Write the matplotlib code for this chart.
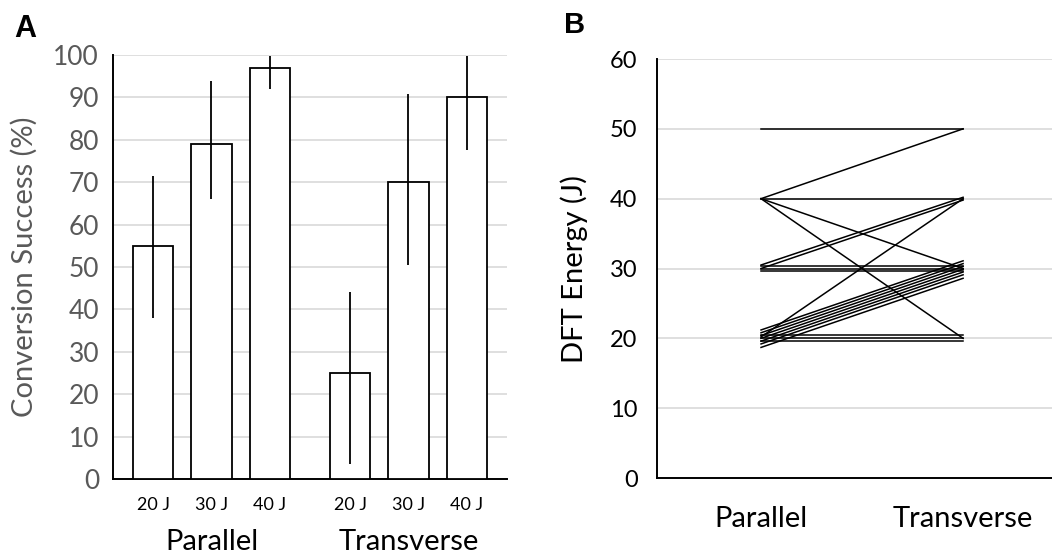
import numpy as np
import matplotlib.pyplot as plt

plt.rcParams['font.family'] = ['Lato', 'DejaVu Sans']

# === Panel A data ===
bar_labels = ['20 J', '30 J', '40 J', '20 J', '30 J', '40 J']
group_labels = ['Parallel', 'Transverse']
success = [55, 79, 97, 25, 70, 90]
err_low = [38, 66, 92, 3.6, 50.5, 77.7]
err_high = [71.4, 93.9, 99.8, 44.2, 90.7, 99.8]

# === Panel B data (parallel -> transverse, per patient) ===
par_energy = [50, 40, 40, 40, 40, 30.5, 30.0, 30.4, 30.0, 29.6,
              20.2, 21.2, 20.8, 20.4, 20.0, 19.6, 19.2, 18.7, 20.5, 20.0, 19.6]
trans_energy = [50, 50, 40, 30, 20, 40.2, 39.8, 30.4, 30.0, 29.6,
                40.0, 31.1, 30.7, 30.3, 29.9, 29.5, 29.1, 28.6, 20.5, 20.0, 19.6]
trans_labels = ['Parallel', 'Transverse']

grid_col = '#d9d9d9'
tick_col = '#595959'

fig = plt.figure(figsize=(10.52, 5.53), dpi=100)

# --- A ---
ax1 = fig.add_axes([0.1074, 0.1338, 0.3745, 0.7667])
xpos = np.array([0, 1, 2, 3.372, 4.372, 5.372])
ax1.bar(xpos, success, width=0.695, color='white', edgecolor='black', linewidth=1.3, zorder=3)
yerr = [np.array(success) - np.array(err_low), np.array(err_high) - np.array(success)]
ax1.errorbar(xpos, success, yerr=yerr, fmt='none', ecolor='black', elinewidth=1.3, capsize=0, zorder=4)
ax1.set_xlim(-0.686, 6.058)
ax1.set_ylim(0, 100)
ax1.set_yticks(range(0, 101, 10))
ax1.yaxis.grid(True, color=grid_col, linewidth=1.2, zorder=0)
ax1.set_axisbelow(True)
for s in ['top', 'right']:
    ax1.spines[s].set_visible(False)
ax1.spines['left'].set_linewidth(1.4)
ax1.spines['bottom'].set_linewidth(1.4)
ax1.tick_params(axis='both', length=0)
ax1.tick_params(axis='y', labelsize=19, labelcolor=tick_col, pad=10)
ax1.set_xticks(xpos)
ax1.set_xticklabels(bar_labels, fontsize=13, color='black')
ax1.tick_params(axis='x', pad=13)
ax1.set_ylabel('Conversion Success (%)', fontsize=21, color=tick_col)
ax1.yaxis.set_label_coords(-0.19, 0.5)
ax1.text(xpos[1], -0.148, group_labels[0], transform=ax1.get_xaxis_transform(),
         ha='center', va='center', fontsize=21)
ax1.text(xpos[4], -0.148, group_labels[1], transform=ax1.get_xaxis_transform(),
         ha='center', va='center', fontsize=21)
fig.text(0.014, 0.948, 'A', fontsize=22, fontweight='bold', family='Liberation Sans', va='center')

# --- B ---
ax2 = fig.add_axes([0.6245, 0.1356, 0.3755, 0.7577])
for p, t in zip(par_energy, trans_energy):
    ax2.plot([0, 1], [p, t], color='black', linewidth=1.1, zorder=3)
ax2.set_xlim(-0.515, 1.44)
ax2.set_ylim(0, 60)
ax2.set_yticks(range(0, 61, 10))
ax2.yaxis.grid(True, color=grid_col, linewidth=1.2, zorder=0)
ax2.set_axisbelow(True)
for s in ['top', 'right']:
    ax2.spines[s].set_visible(False)
ax2.spines['left'].set_linewidth(1.4)
ax2.spines['bottom'].set_linewidth(1.4)
ax2.tick_params(axis='both', length=0)
ax2.tick_params(axis='y', labelsize=17, pad=14)
ax2.set_xticks([0, 1])
ax2.set_xticklabels(trans_labels, fontsize=21)
ax2.tick_params(axis='x', pad=20)
ax2.set_ylabel('DFT Energy (J)', fontsize=21)
ax2.yaxis.set_label_coords(-0.175, 0.5)
fig.text(0.536, 0.954, 'B', fontsize=21, fontweight='bold', family='Liberation Sans', va='center')

fig.savefig('out.png', dpi=100)
